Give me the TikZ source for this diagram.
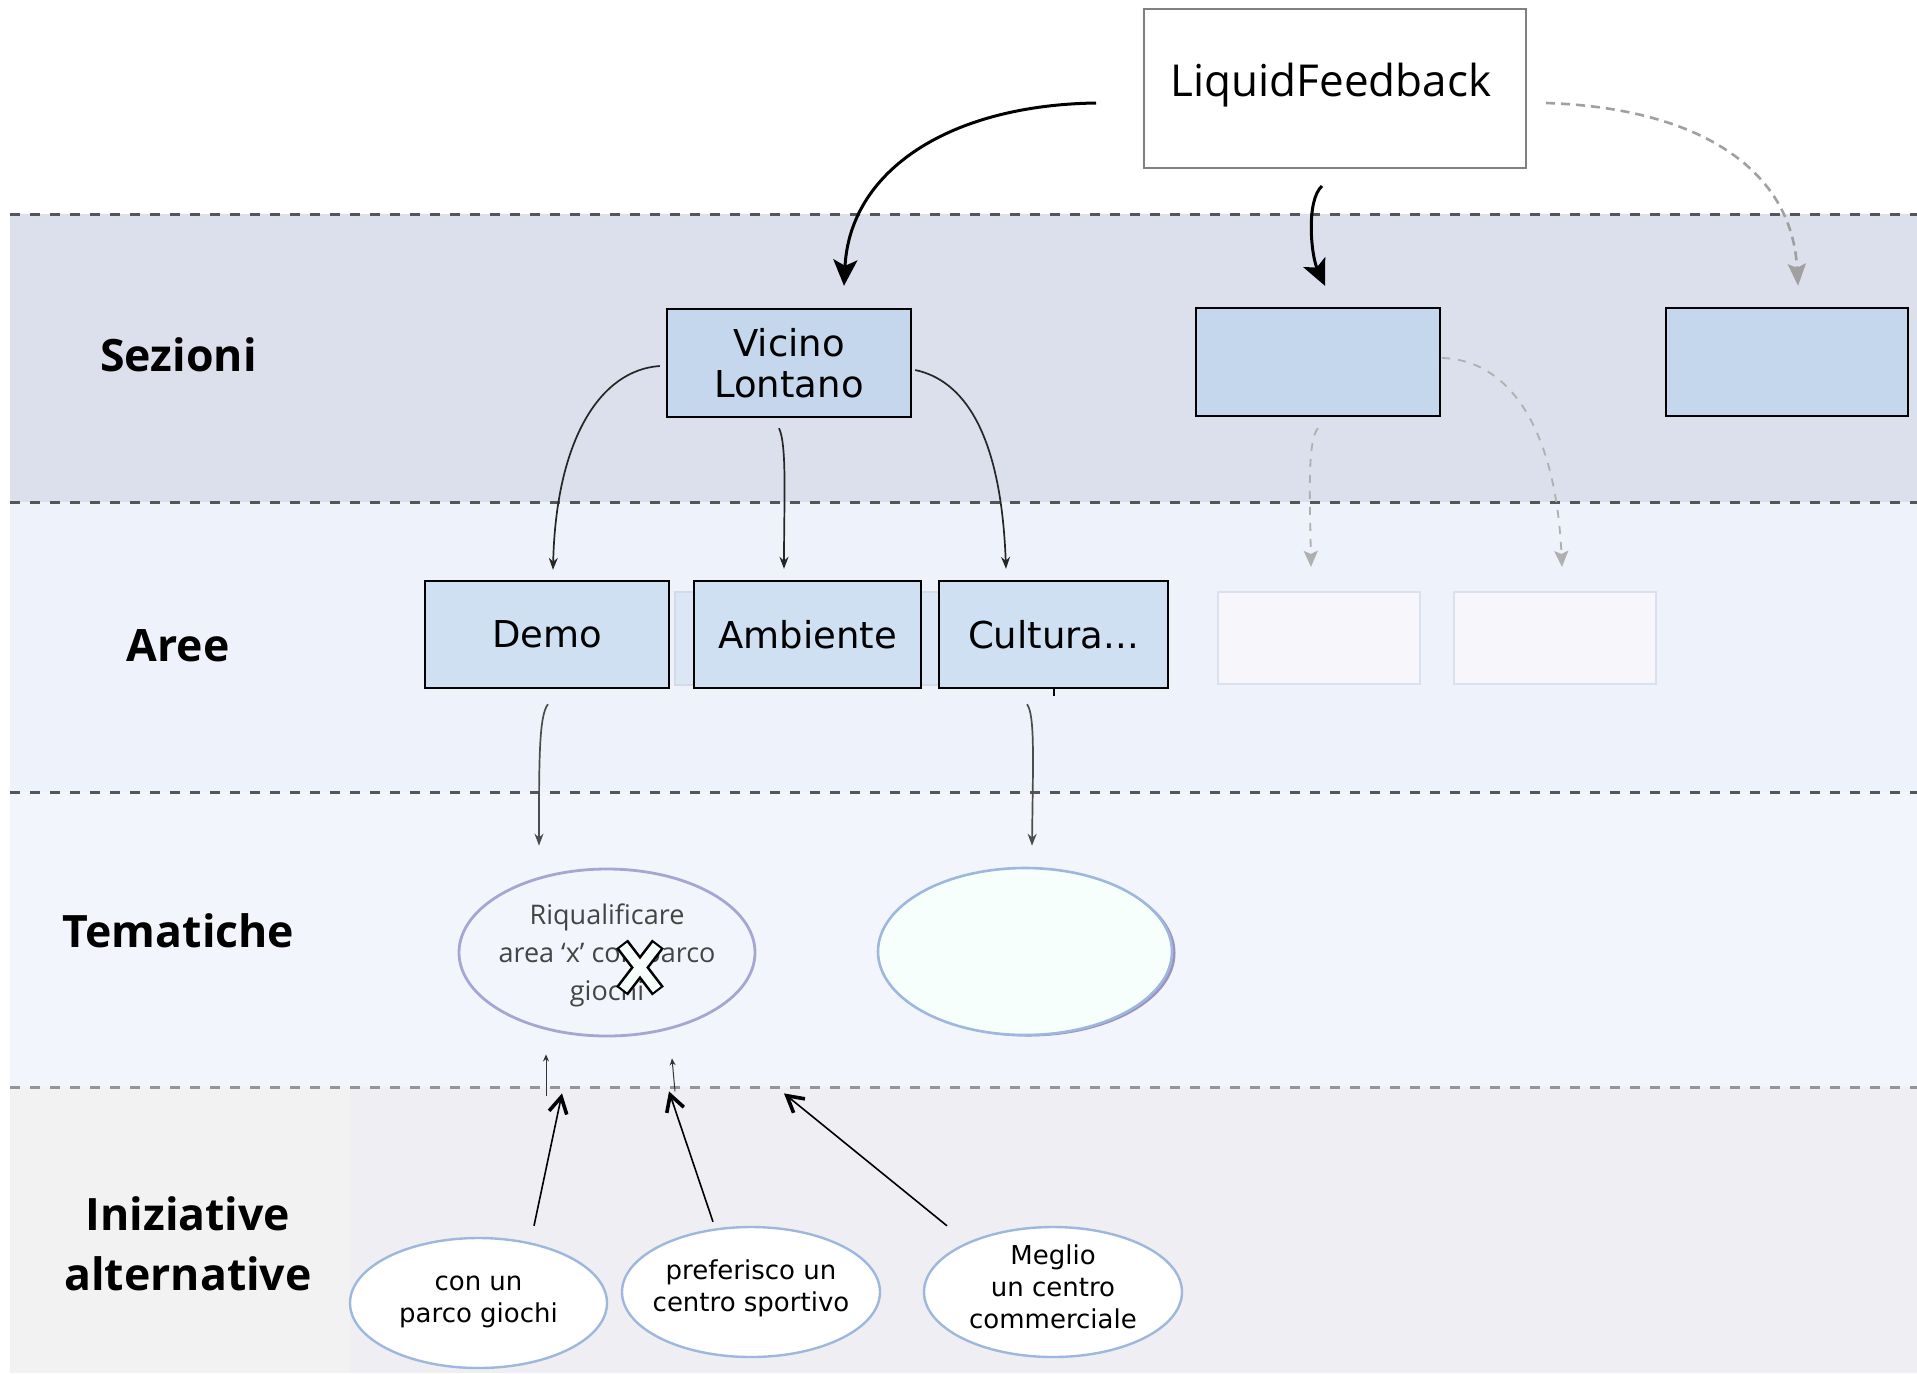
\documentclass[tikz,border=0pt]{standalone}
\usepackage{fontspec}
\setmainfont{DejaVu Sans}
\newfontfamily\osans{Open Sans}
\newfontfamily\dvs{DejaVu Sans}
\usetikzlibrary{arrows.meta,calc,shapes.geometric}
\definecolor{bandS}{HTML}{DCDFEC}
\definecolor{bandA}{HTML}{EEF2FA}
\definecolor{bandT}{HTML}{F2F5FB}
\definecolor{bandIL}{HTML}{F2F2F2}
\definecolor{bandIR}{HTML}{EFEEF3}
\definecolor{secfill}{HTML}{C5D7EC}
\definecolor{areafill}{HTML}{CFE0F2}
\definecolor{faintfill}{HTML}{F6F6FB}
\definecolor{faintdraw}{HTML}{D9E0EE}
\definecolor{ghostdraw}{HTML}{D3DAEA}
\definecolor{tonedraw}{HTML}{A6A6D2}
\definecolor{ttwodraw}{HTML}{9DB8DC}
\definecolor{ttwofill}{HTML}{F6FFFC}
\definecolor{ttwoshadow}{HTML}{9C92C2}
\definecolor{inidraw}{HTML}{9DB8DC}
\definecolor{lfdraw}{HTML}{808080}
\definecolor{dline}{HTML}{555555}
\definecolor{dlinefour}{HTML}{959595}
\definecolor{garr}{HTML}{A0A0A0}
\definecolor{lgarr}{HTML}{B0B0B0}
\definecolor{ttext}{HTML}{444444}
\definecolor{xfill}{HTML}{F7FFFC}
\begin{document}
\begin{tikzpicture}[x=0.5pt,y=-0.5pt,
  bandline/.style={draw=dline, line width=1.5pt, dash pattern=on 5pt off 5pt},
  lbl/.style={font=\osans\bfseries\fontsize{22.3}{30}\selectfont, align=center, inner sep=0},
  lfbox/.style={draw=lfdraw, line width=1pt, fill=white, minimum width=191pt, minimum height=79.5pt, inner sep=0},
  secbox/.style={draw=black, line width=1.2pt, fill=secfill, minimum width=122pt, minimum height=54pt, inner sep=0, align=center, font=\dvs\fontsize{18.5}{20.8}\selectfont},
  areabox/.style={draw=black, line width=1.2pt, fill=areafill, minimum height=53.5pt, inner sep=0, font=\dvs\fontsize{18.5}{20.8}\selectfont},
  faintbox/.style={draw=faintdraw, line width=1.1pt, fill=faintfill, minimum width=101pt, minimum height=46pt, inner sep=0},
  inibox/.style={ellipse, draw=inidraw, line width=1.2pt, fill=white, minimum width=128.5pt, minimum height=65pt, inner sep=0},
  initext/.style={align=center, inner sep=0, font=\dvs\fontsize{13}{16}\selectfont},
  bigarr/.style={line width=1.5pt, -{Stealth[length=13pt,width=12pt,inset=3pt]}},
  grayarr/.style={draw=garr, line width=1.3pt, dash pattern=on 4.5pt off 3pt, -{Stealth[length=11pt,width=9pt,inset=2pt]}},
  thinarr/.style={draw=black!85, line width=0.85pt, -{Stealth[length=6pt,width=4.5pt]}},
  lgrayarr/.style={draw=lgarr, line width=0.9pt, dash pattern=on 4pt off 4pt, -{Stealth[length=8pt,width=7pt,inset=1.5pt]}},
  tinyarr/.style={draw=black!80, line width=0.5pt, -{Stealth[length=3.5pt,width=3pt]}},
  barbarr/.style={line width=0.8pt, -{Straight Barb[length=8pt,width=9pt,line width=1.8pt]}}
]
\useasboundingbox (0,0) rectangle (1917,1373);
\fill[white] (0,0) rectangle (1917,1373);
% bands
\fill[bandS] (10,214) rectangle (1917,502);
\fill[bandA] (10,502) rectangle (1917,792);
\fill[bandT] (10,792) rectangle (1917,1087);
\fill[bandIL] (10,1087) rectangle (350,1373);
\fill[bandIR] (350,1087) rectangle (1917,1373);
\draw[bandline] (10,214) -- (1917,214);
\draw[bandline] (10,502) -- (1917,502);
\draw[bandline] (10,792) -- (1917,792);
\draw[bandline, draw=dlinefour] (10,1087) -- (1917,1087);

% row labels
\node[lbl] (lsez) at (178.5,355) {Sezioni};
\node[lbl] (lare) at (178,646) {Aree};
\node[lbl] (ltem) at (178.5,931) {Tematiche};
\node[lbl] (lini) at (188,1244) {Iniziative\\alternative};

% top box
\node[lfbox] (LF) at (1335,88.5) {};
\node[font=\osans\fontsize{22}{26}\selectfont, inner sep=0] (LFt) at (1331,85) {LiquidFeedback};

% sezioni
\node[secbox] (VL) at (789,363) {Vicino\\Lontano};
\node[secbox] (S2) at (1318,362) {};
\node[secbox, minimum width=121pt] (S3) at (1787,362) {};

% aree
\draw[draw=ghostdraw, line width=1.3pt, fill=areafill!60!bandA] (675,592) rectangle (1150,685);
\node[areabox, minimum width=122pt] (Demo) at (547,634.5) {Demo};
\node[areabox, minimum width=113.5pt] (Amb) at (807.5,634.5) {Ambiente};
\node[areabox, minimum width=114.5pt] (Cul) at (1053.5,634.5) {Cultura...};
\draw[line width=1.2pt] (Cul.south) ++(0.5,0) -- ++(0,7);
\node[faintbox] (FA) at (1319,638) {};
\node[faintbox] (FB) at (1555,638) {};

% tematiche
\node[ellipse, draw=tonedraw, line width=1.4pt, fill=bandT, minimum width=148pt, minimum height=83.5pt, inner sep=0] (T1) at (607,952.5) {};
\node[align=center, inner sep=0, text=ttext, font=\osans\fontsize{13.5}{19}\selectfont] (T1t) at (607,955) {Riqualificare\\area ‘x’ con parco\\giochi};
\draw[line width=7.4pt, line cap=butt] (622,944) -- (658,991) (658,944) -- (622,991);
\draw[line width=4.8pt, draw=xfill, line cap=butt] (623.3,945.7) -- (656.7,989.3) (656.7,945.7) -- (623.3,989.3);
\fill[ttwoshadow] (1028.5,953) ellipse [x radius=147, y radius=83.5];
\node[ellipse, draw=ttwodraw, line width=1.3pt, fill=ttwofill, minimum width=147pt, minimum height=83.5pt, inner sep=0] (T2) at (1025,951.5) {};

% iniziative
\node[inibox] (I1) at (478.5,1303) {};
\node[initext] (I1t) at (478.5,1302) {con un\\parco giochi};
\node[inibox, minimum width=129pt] (I2) at (751,1292) {};
\node[initext] (I2t) at (751,1288) {preferisco un\\centro sportivo};
\node[inibox, minimum width=129pt] (I3) at (1053,1292) {};
\node[initext] (I3t) at (1053,1287) {Meglio\\un centro\\commerciale};

% arrows from LiquidFeedback
\draw[bigarr] ($(LF.west)+(-47,14.5)$) .. controls (950,105) and (850,170) .. ($(VL.north)+(55,-22)$);
\draw[bigarr] ($(LF.south)+(-13,17)$) .. controls (1306,200) and (1311,255) .. ($(S2.north)+(7,-21)$);
\draw[grayarr] ($(LF.east)+(19,14.5)$) .. controls (1700,108) and (1792,170) .. ($(S3.north)+(11,-21)$);

% sezioni -> aree
\draw[thinarr] ($(VL.west)+(-6,3)$) .. controls (600,370) and (556,440) .. ($(Demo.north)+(6,-10)$);
\draw[thinarr] ($(VL.south)+(-10,10)$) .. controls (787,445) and (784,500) .. ($(Amb.north)+(-23.5,-11)$);
\draw[thinarr] ($(VL.east)+(3,7)$) .. controls (962,380) and (1001,430) .. ($(Cul.north)+(-47.5,-11)$);
\draw[lgrayarr] ($(S2.south)+(0,11)$) .. controls (1307,440) and (1310,500) .. ($(FA.north)+(-8,-24)$);
\draw[lgrayarr] ($(S2.east)+(1,-4)$) .. controls (1510,360) and (1556,430) .. ($(FB.north)+(7,-24)$);

% aree -> tematiche
\draw[thinarr, draw=black!70] ($(Demo.south)+(1,15)$) .. controls (539,715) and (539,760) .. ($(T1.north)+(-68,-22)$);
\draw[thinarr, draw=black!70] ($(Cul.south)+(-26.5,15)$) .. controls (1035,715) and (1033,760) .. ($(T2.north)+(7,-21)$);

% small upward arrows
\draw[tinyarr] ($(T1.south)+(-61,59)$) -- ($(T1.south)+(-61,17)$);
\draw[tinyarr] ($(T1.south)+(68,54)$) -- ($(T1.south)+(65,21)$);

% initiatives arrows
\draw[barbarr] ($(I1.north)+(55.5,-11)$) -- ($(T1.south)+(-45,56)$);
\draw[barbarr] ($(I2.north)+(-38,-4)$) -- ($(T1.south)+(62,54)$);
\draw[barbarr] ($(I3.north)+(-106,0)$) -- ($(T1.south)+(177,56)$);
\end{tikzpicture}
\end{document}
